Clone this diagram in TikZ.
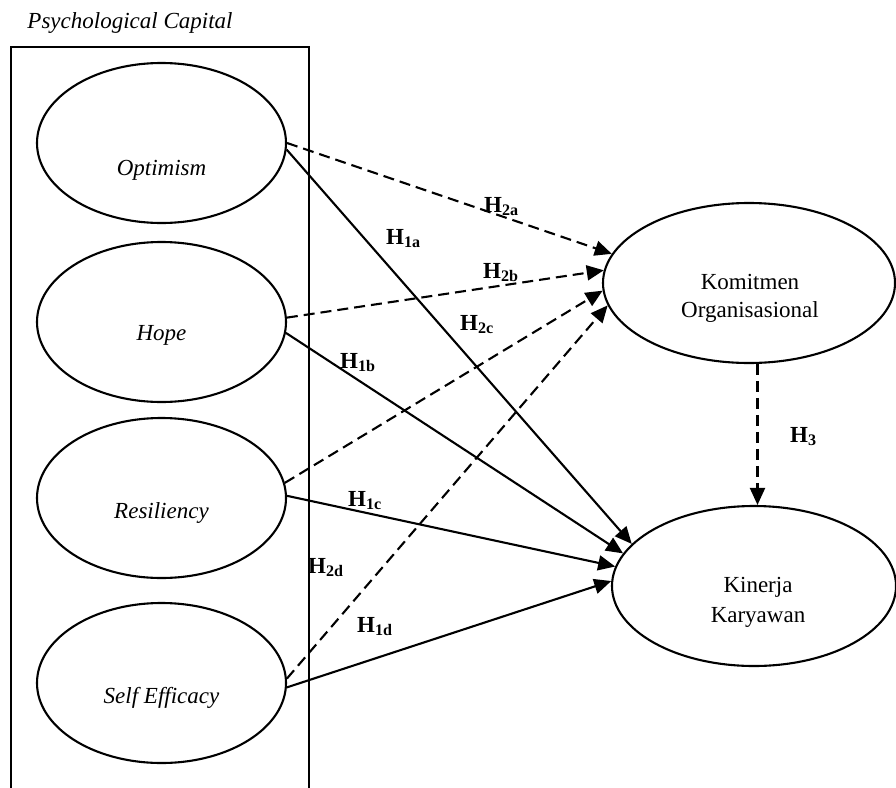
\documentclass[tikz,border=0pt]{standalone}
\usepackage{fontspec}
\setmainfont{Liberation Serif}
\usetikzlibrary{arrows.meta,shapes.geometric}
\begin{document}
\begin{tikzpicture}[x=1pt,y=-1pt,
  ell/.style={draw,line width=2.1pt,ellipse,inner sep=0pt},
  lell/.style={ell,minimum width=249pt,minimum height=160pt},
  itl/.style={font=\fontsize{23}{27}\selectfont\itshape,anchor=base,inner sep=0pt},
  rtxt/.style={font=\fontsize{23}{27}\selectfont,anchor=base,inner sep=0pt},
  hlab/.style={font=\fontsize{23}{27}\selectfont\bfseries,anchor=base west,inner sep=0pt},
  conn/.style={line width=2.1pt,-{Triangle[length=17pt,width=15pt]}},
  dconn/.style={conn,dash pattern=on 11pt off 6pt}]
\useasboundingbox (0,0) rectangle (896,787);

% frame
\draw[line width=2.1pt] (11,790) -- (11,47) -- (309,47) -- (309,790);
\node[itl] (pc) at (130,28) {Psychological Capital};

% left ellipses
\node[lell] (opt) at (161.5,143) {};
\node[lell] (hope) at (161.5,322) {};
\node[lell] (res) at (161.5,498) {};
\node[lell] (self) at (161.5,683) {};
\node[itl] (optt) at (161.5,175) {Optimism};
\node[itl] (hopet) at (161.5,340) {Hope};
\node[itl] (rest) at (161.5,518) {Resiliency};
\node[itl] (selft) at (161.5,703) {Self Efficacy};

% right ellipses
\node[ell,minimum width=292pt,minimum height=160pt] (kom) at (749,283) {};
\node[ell,minimum width=284pt,minimum height=160pt] (kin) at (754,586) {};
\node[rtxt] (komt1) at (750,289) {Komitmen};
\node[rtxt] (komt2) at (750,317) {Organisasional};
\node[rtxt] (kint1) at (758,592) {Kinerja};
\node[rtxt] (kint2) at (758,622) {Karyawan};

% H1 paths (solid)
\draw[conn] (opt.-3) -- (kin.161);
\draw[conn] (hope.-5) -- (kin.166);
\draw[conn] (res.1) -- (kin.172);
\draw[conn] (self.-2) -- (kin.178);

% H2 paths (dashed)
\draw[dconn] (opt.0) -- (kom.168.6);
\draw[dconn] (hope.2) -- (kom.175);
\draw[dconn] (res.7) -- (kom.183);
\draw[dconn] (self.2) -- (kom.189);

% H3
\draw[dconn] (kom.276.4) -- (kom.276.4 |- kin.north);

% labels
\node[hlab] (h2a) at (484,212) {H\textsubscript{2a}};
\node[hlab] (h1a) at (386,244) {H\textsubscript{1a}};
\node[hlab] (h2b) at (483,278) {H\textsubscript{2b}};
\node[hlab] (h2c) at (460,330) {H\textsubscript{2c}};
\node[hlab] (h1b) at (340,368) {H\textsubscript{1b}};
\node[hlab] (h1c) at (348,506) {H\textsubscript{1c}};
\node[hlab] (h2d) at (308,573) {H\textsubscript{2d}};
\node[hlab] (h1d) at (357,632) {H\textsubscript{1d}};
\node[hlab] (h3) at (790,442) {H\textsubscript{3}};
\end{tikzpicture}
\end{document}
